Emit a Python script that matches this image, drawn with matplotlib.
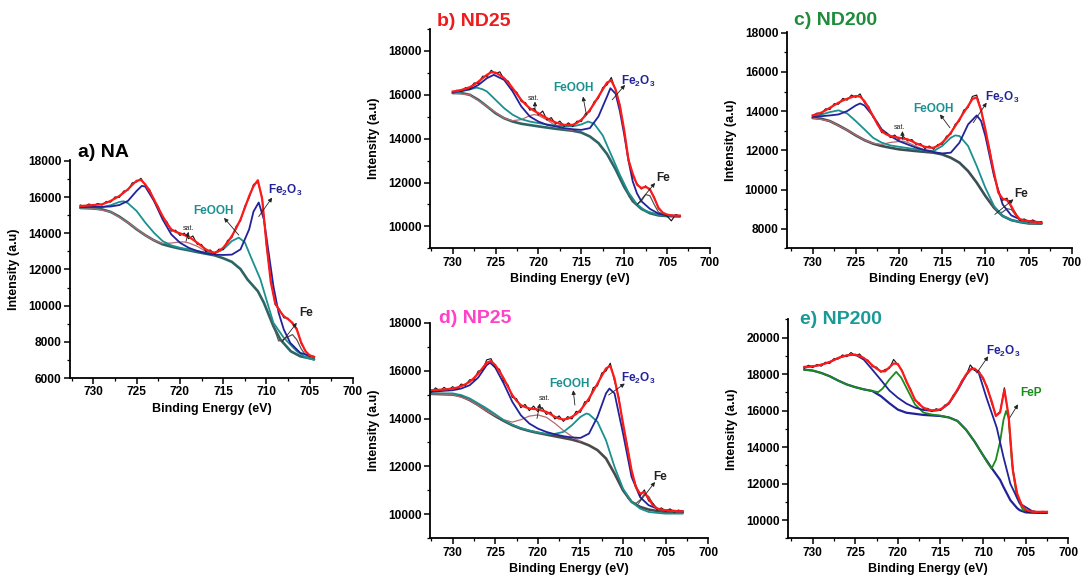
import numpy as np
import matplotlib.pyplot as plt
from matplotlib.ticker import MultipleLocator

plt.rcParams['font.family'] = ['Liberation Sans', 'DejaVu Sans']
plt.rcParams['font.weight'] = 'bold'
plt.rcParams['mathtext.fontset'] = 'custom'
plt.rcParams['mathtext.rm'] = 'Liberation Sans:bold'
plt.rcParams['mathtext.default'] = 'rm'

RED = '#ff1a1a'
NAVY = '#22229a'
TEAL = '#1a9090'
BG = '#2f6465'
SAT = '#b86a70'
FEC = '#555555'
GREEN = '#1a8c1a'

# ---------- a) NA : raw / envelope on a 0.5 eV grid from 731.5 eV ----------
a_x0 = 731.5
a_raw = [15560, 15480, 15620, 15500, 15650, 15560, 15760, 15720, 16010, 15980,
         16330, 16380, 16790, 16830, 17040, 16640, 16420, 15800, 15480, 14860,
         14640, 14120, 14170, 13880, 14010, 13700, 13850, 13390, 13380, 12990,
         13080, 12850, 13120, 13100, 13600, 13760, 14390, 14680, 15510, 15950,
         16700, 16830, 15980, 13300, 11400, 10050, 9800, 9330, 9300, 9000,
         8750, 7900, 7520, 7200, 7160]
a_env = [15510, 15520, 15540, 15560, 15580, 15600, 15690, 15790, 15920, 16060,
         16240, 16430, 16680, 16900, 16950, 16700, 16330, 15880, 15400, 14950,
         14540, 14220, 14080, 14000, 13900, 13810, 13650, 13480, 13290, 13110,
         12990, 12930, 13020, 13200, 13490, 13850, 14280, 14770, 15400, 16060,
         16600, 16930, 15900, 13400, 11300, 10150, 9720, 9420, 9250, 9050,
         8680, 7980, 7480, 7250, 7170]
a_bg = [(731.5, 15400), (730, 15370), (729, 15320), (728, 15180), (727, 14920),
        (726, 14590), (725, 14220), (724, 13890), (723, 13610), (722, 13390),
        (721, 13260), (720, 13150), (719, 13060), (718, 12960), (717, 12870),
        (716, 12780), (715, 12620), (714, 12420), (713, 12020), (712.2, 11450),
        (711, 10800), (710.3, 10160), (709.2, 8860), (708.4, 8130), (707.2, 7480),
        (706.1, 7200), (704.5, 7040)]
a_fe2o3 = [(731.5, 15450), (729, 15460), (728, 15480), (727, 15560), (726, 15790),
           (725, 16340), (724.4, 16620), (724, 16580), (723, 15790), (722, 14770),
           (721, 13940), (720, 13480), (719, 13200), (718, 13020), (717, 12890),
           (716, 12820), (715, 12800), (714, 12820), (713, 13110), (712, 14220),
           (711.5, 15200), (710.9, 15700), (710.3, 14770), (709.75, 12930),
           (709.2, 11080), (708.6, 9610), (708, 8680), (707.25, 7940),
           (706.1, 7390), (704.5, 7170)]
a_feooh = [(731.5, 15420), (729, 15440), (728, 15550), (727, 15730), (726.5, 15770),
           (726, 15660), (725, 15230), (724, 14590), (723, 14030), (722, 13570),
           (721, 13330), (720, 13200), (718, 13020), (717, 12930), (716, 12890),
           (715, 13110), (714, 13570), (713.2, 13760), (712.5, 13500),
           (711.85, 12740), (710.7, 11450), (709.9, 10160), (709.2, 9050),
           (708, 8220), (706.5, 7480), (705.5, 7150), (704.5, 7000)]
a_sat = [(731.5, 15400), (730, 15370), (728, 15180), (726, 14590), (724, 13890),
         (723, 13610), (722, 13440), (721, 13460), (720, 13520), (719.5, 13520),
         (719, 13470), (718, 13280), (717, 13000), (716, 12790)]
a_fe = [(709.5, 9300), (709, 8600), (708.6, 8050), (708.2, 8080), (707.6, 8260),
        (707, 8400), (706.5, 8120), (706, 7620), (705.5, 7280), (705, 7150)]

# ---------- b) ND25 ----------
b_x0 = 730.0
b_raw = [16120, 16210, 16150, 16330, 16250, 16540, 16520, 16850, 16830, 17120,
         16960, 17050, 16700, 16620, 16230, 16110, 15690, 15640, 15300, 15380,
         15080, 15260, 14850, 14960, 14660, 14800, 14560, 14720, 14560, 14800,
         14780, 15150, 15230, 15690, 15840, 16330, 16450, 16790, 16200, 15550,
         14300, 13100, 12300, 11950, 11700, 11850, 11650, 11350, 10800, 10650,
         10470, 10250, 10540, 10480]
b_env = [16150, 16180, 16220, 16280, 16350, 16460, 16600, 16760, 16910, 17030,
         17010, 16900, 16760, 16550, 16300, 16030, 15770, 15560, 15390, 15270,
         15160, 15040, 14930, 14830, 14740, 14680, 14630, 14620, 14630, 14720,
         14860, 15060, 15310, 15600, 15920, 16240, 16560, 16650, 16250, 15500,
         14400, 13040, 12400, 11900, 11750, 11800, 11700, 11300, 10850, 10620,
         10540, 10500, 10490, 10490]
b_bg = [(730, 16080), (729, 16080), (728, 16000), (727, 15770), (726, 15470),
        (725, 15160), (724, 14930), (723, 14780), (722, 14680), (721, 14620),
        (720, 14560), (718, 14450), (716, 14360), (715, 14280), (714, 14100),
        (713, 13800), (712, 13300), (711, 12600), (710, 11800), (709, 11150),
        (708, 10800), (707, 10600), (706, 10500), (705, 10470), (703.5, 10450)]
b_fe2o3 = [(730, 16100), (729, 16190), (728, 16250), (727, 16450), (726, 16760),
           (725.2, 16910), (724, 16680), (723, 16150), (722, 15470), (721, 15010),
           (720, 14780), (719, 14630), (718, 14560), (717, 14480), (716, 14430),
           (715, 14400), (714, 14480), (713, 15010), (712, 15920), (711.6, 16300),
           (711, 16050), (710.5, 15250), (710, 14200), (709.5, 13000), (709, 12050),
           (708.5, 11500), (708, 11150), (707, 10800), (706, 10580), (705, 10500),
           (703.5, 10480)]
b_feooh = [(730, 16100), (729, 16150), (728, 16250), (727.2, 16330), (726.5, 16250),
           (726, 16150), (725, 15770), (724, 15390), (723, 15090), (722, 14890),
           (721, 14780), (720, 14710), (718, 14590), (716, 14560), (715, 14650),
           (714.2, 14780), (713.5, 14680), (712.5, 14150), (711.5, 13250),
           (710.5, 12350), (709.5, 11550), (708.5, 11000), (707.5, 10700),
           (706, 10530), (703.5, 10460)]
b_sat = [(730, 16080), (728, 16000), (726, 15470), (724, 14930), (723, 14820),
         (722, 14870), (721, 15050), (720.5, 15100), (720, 15060), (719, 14850),
         (718, 14600), (717, 14450), (716, 14380)]
b_fe = [(709.5, 11400), (709, 11150), (708.5, 11000), (708, 11150), (707.5, 11450),
        (707, 11400), (706.5, 11000), (706, 10650), (705, 10480)]

# ---------- c) ND200 ----------
c_x0 = 730.0
c_raw = [13750, 13900, 13860, 14120, 14080, 14380, 14350, 14650, 14560, 14820,
         14700, 14880, 14420, 14230, 13680, 13420, 12900, 12900, 12650, 12780,
         12560, 12700, 12480, 12550, 12280, 12340, 12090, 12220, 12050, 12300,
         12310, 12720, 12820, 13330, 13490, 14050, 14180, 14750, 14820, 14100,
         12980, 12050, 10780, 9920, 9450, 9560, 9080, 8800, 8420, 8500,
         8340, 8450, 8300, 8360]
c_env = [13780, 13850, 13920, 14040, 14170, 14300, 14430, 14540, 14630, 14710,
         14770, 14740, 14510, 14150, 13750, 13330, 12980, 12820, 12730, 12680,
         12640, 12600, 12560, 12460, 12350, 12260, 12180, 12140, 12130, 12230,
         12390, 12620, 12900, 13230, 13580, 13930, 14260, 14620, 14700, 14050,
         13070, 11950, 10860, 9840, 9530, 9460, 9160, 8730, 8480, 8420,
         8390, 8360, 8340, 8310]
c_bg = [(730, 13650), (729, 13610), (728, 13490), (727, 13270), (726, 13030),
        (725, 12760), (724, 12520), (723, 12340), (722, 12220), (721, 12130),
        (720, 12050), (718, 11960), (716, 11880), (715, 11790), (714, 11620),
        (713, 11370), (712, 10940), (711, 10350), (710, 9670), (709, 9070),
        (708, 8650), (707, 8440), (706, 8340), (705, 8270), (703.5, 8260)]
c_fe2o3 = [(730, 13700), (728, 13780), (727, 13830), (726, 14000), (725, 14290),
           (724.5, 14390), (724, 14290), (723, 13750), (722, 13070), (721, 12730),
           (720, 12470), (719, 12300), (718, 12130), (717, 12010), (716, 11910),
           (715, 11840), (714, 11880), (713, 12390), (712, 13320), (711, 13780),
           (710.5, 13500), (710, 12730), (709, 10690), (708, 9240), (707, 8680),
           (706, 8480), (705, 8390), (703.5, 8330)]
c_feooh = [(730, 13700), (728, 13950), (727, 14040), (726, 13880), (725, 13490),
           (724, 13070), (723, 12640), (722, 12390), (721, 12250), (720, 12180),
           (718, 12050), (716, 11960), (715, 12220), (714, 12640), (713.5, 12760),
           (713, 12730), (712, 12220), (711, 11200), (710, 10090), (709, 9160),
           (708, 8650), (707, 8440), (706, 8340), (705, 8280), (703.5, 8270)]
c_sat = [(730, 13650), (728, 13490), (726, 13030), (724, 12520), (723, 12360),
         (722, 12300), (721, 12400), (720, 12450), (719.5, 12470), (719, 12400),
         (718, 12200), (717, 12000), (716, 11900)]
c_fe = [(709.5, 9400), (709, 9070), (708.5, 8800), (708, 8850), (707.5, 9020),
        (707, 8980), (706.5, 8700), (706, 8450), (705, 8300)]

# ---------- d) NP25 ----------
d_x0 = 732.5
d_raw = [15100, 15280, 15150, 15300, 15180, 15330, 15220, 15440, 15380, 15620,
         15610, 15980, 16020, 16450, 16500, 16120, 16060, 15560, 15400, 14880,
         14830, 14450, 14590, 14330, 14520, 14290, 14460, 14170, 14270, 13980,
         14110, 13880, 14080, 13980, 14300, 14260, 14700, 14720, 15290, 15360,
         15900, 15980, 16310, 15560, 14890, 13700, 12880, 11750, 11220, 10780,
         11020, 10560, 10460, 10180, 10270, 10120, 10230, 10090, 10180, 10110]
d_env = [15180, 15190, 15200, 15210, 15230, 15250, 15290, 15350, 15430, 15530,
         15690, 15880, 16100, 16330, 16400, 16230, 15970, 15670, 15320, 14980,
         14740, 14560, 14480, 14420, 14400, 14380, 14330, 14280, 14180, 14070,
         14000, 13960, 13990, 14070, 14190, 14350, 14580, 14840, 15140, 15460,
         15780, 16090, 16200, 15670, 14800, 13790, 12800, 11840, 11140, 10860,
         10930, 10650, 10380, 10240, 10200, 10170, 10150, 10140, 10130, 10130]
d_bg = [(732.5, 15030), (730, 15000), (729, 14930), (728, 14770), (727, 14560),
        (726, 14320), (725, 14100), (724, 13900), (723, 13720), (722, 13580),
        (721, 13480), (720, 13400), (718, 13260), (716, 13120), (715, 13020),
        (714, 12880), (713, 12680), (712, 12330), (711, 11700), (710, 11000),
        (709, 10520), (708, 10310), (707, 10200), (706, 10140), (705, 10100),
        (703, 10070)]
d_fe2o3 = [(732.5, 15120), (730, 15180), (729, 15250), (728, 15390), (727, 15710),
           (726, 16230), (725.6, 16330), (725, 16130), (724, 15460), (723, 14700),
           (722, 14140), (721, 13790), (720, 13580), (719, 13440), (718, 13340),
           (717, 13260), (716, 13210), (715, 13190), (714, 13370), (713, 14070),
           (712, 15050), (711.6, 15250), (711, 15050), (710, 13370), (709, 11560),
           (708, 10720), (707, 10380), (706, 10240), (705, 10170), (703, 10130)]
d_feooh = [(732.5, 15050), (730, 15050), (729, 14980), (728, 14840), (727, 14630),
           (726, 14420), (725, 14180), (724, 13930), (723, 13740), (722, 13600),
           (721, 13500), (720, 13420), (719, 13360), (718, 13360), (717, 13440),
           (716, 13720), (715, 14070), (714.3, 14210), (714, 14180), (713, 13860),
           (712, 13090), (711, 11980), (710, 11070), (709, 10520), (708, 10240),
           (707, 10100), (706, 10060), (705, 10030), (703, 10030)]
d_sat = [(732.5, 15030), (730, 15000), (728, 14770), (726, 14320), (725, 14120),
         (724, 13950), (723, 13850), (722, 13950), (721, 14100), (720, 14150),
         (719, 14050), (718, 13800), (717, 13500), (716, 13250), (715, 13050)]
d_fe = [(709.5, 10700), (709, 10520), (708.5, 10450), (708, 10600), (707.5, 10850),
        (707, 10750), (706.5, 10450), (706, 10250), (705, 10150)]

# ---------- e) NP200 ----------
e_x0 = 731.0
e_raw = [18300, 18480, 18350, 18520, 18430, 18650, 18580, 18850, 18820, 19050,
         18950, 19180, 19000, 19100, 18820, 18760, 18400, 18380, 18100, 18250,
         18300, 18800, 18500, 18200, 17550, 17180, 16550, 16420, 16100, 16120,
         15950, 16100, 16000, 16300, 16380, 16850, 17100, 17650, 17900, 18500,
         18200, 18180, 17700, 17300, 16400, 15750, 15950, 17250, 15600, 12800,
         11400, 10900, 10500, 10400, 10500, 10380, 10480, 10420]
e_env = [18370, 18400, 18420, 18460, 18510, 18580, 18660, 18770, 18880, 18960,
         19020, 19050, 19060, 18990, 18880, 18700, 18480, 18300, 18150, 18150,
         18370, 18580, 18550, 18150, 17610, 17100, 16610, 16340, 16160, 16060,
         16010, 16020, 16070, 16220, 16430, 16770, 17160, 17580, 17970, 18250,
         18300, 18100, 17790, 17200, 16520, 15700, 15900, 17150, 15700, 12700,
         11450, 10850, 10560, 10480, 10450, 10450, 10450, 10450]
e_bg = [(731, 18240), (730, 18190), (729, 18060), (728, 17880), (727, 17640),
        (726, 17430), (725, 17280), (724, 17160), (723, 17070), (722, 16790),
        (721, 16400), (720, 16050), (719, 15880), (718, 15820), (717, 15760),
        (716, 15730), (715, 15700), (714, 15620), (713, 15430), (712, 14950),
        (711, 14300), (710, 13550), (709, 12850), (708, 12200), (707.6, 11810),
        (706.8, 11090), (706, 10650), (705.7, 10540), (705, 10420), (704.1, 10400),
        (702.5, 10390)]
e_fe2o3 = [(731, 18400), (730, 18420), (729, 18510), (728, 18660), (727, 18880),
           (726, 19020), (725, 19060), (724, 18790), (723, 18240), (722, 17680),
           (721, 17100), (720, 16700), (719, 16380), (718, 16160), (717, 16030),
           (716, 15980), (715, 16030), (714, 16380), (713, 17100), (712, 17930),
           (711.3, 18330), (710.5, 18050), (709.6, 16700), (708.4, 15070),
           (707.6, 13440), (706.8, 11990), (705.7, 10910), (704.1, 10450),
           (702.5, 10420)]
e_fep = [(731, 18240), (730, 18190), (729, 18060), (728, 17880), (727, 17640),
         (726, 17430), (725, 17280), (724, 17160), (723, 17070), (722.3, 17010),
         (721.8, 17200), (721, 17700), (720.2, 18120), (719.6, 17800), (719, 17250),
         (718, 16340), (717, 15890), (716, 15780), (715, 15720), (714, 15620),
         (713, 15430), (712, 14950), (711, 14300), (710, 13550), (709.5, 13150),
         (709, 12820), (708.5, 13300), (708, 14300), (707.6, 15500), (707.3, 15980),
         (707, 15600), (706.6, 13080), (706.05, 11270), (705.3, 10540),
         (704.1, 10450), (702.5, 10430)]


def xy(pts):
    arr = np.array(pts, dtype=float)
    return arr[:, 0], arr[:, 1]


def make_axes(fig, rect, xlim, ylim, ystep_ticks):
    ax = fig.add_axes(rect)
    ax.set_xlim(xlim)
    ax.set_ylim(ylim)
    for s in ['top', 'right']:
        ax.spines[s].set_visible(False)
    for s in ['left', 'bottom']:
        ax.spines[s].set_linewidth(1.3)
    ax.set_xticks([730, 725, 720, 715, 710, 705, 700])
    ax.xaxis.set_minor_locator(MultipleLocator(2.5))
    ax.set_yticks(ystep_ticks)
    ax.yaxis.set_minor_locator(MultipleLocator(1000))
    ax.tick_params(which='major', direction='out', length=4, width=1.1, labelsize=8.6, pad=2)
    ax.tick_params(which='minor', direction='out', length=2.5, width=0.9)
    for lab in ax.get_xticklabels() + ax.get_yticklabels():
        lab.set_fontweight('bold')
    ax.set_xlabel('Binding Energy (eV)', fontsize=9, fontweight='bold')
    ax.set_ylabel('Intensity (a.u)', fontsize=9, fontweight='bold')
    w_px = rect[2] * 1083
    h_px = rect[3] * 578
    ax.yaxis.set_label_coords(-50 / w_px, 0.5)
    ax.xaxis.set_label_coords(0.5, -25 / h_px)
    return ax


def draw_data(ax, x0, raw, env, comps):
    x = x0 - 0.5 * np.arange(len(raw))
    for pts, color, lw in comps:
        cx, cy = xy(pts)
        ax.plot(cx, cy, color=color, lw=lw, solid_capstyle='round')
    ax.plot(x, raw, color='#111111', lw=0.8)
    ax.plot(x, env, color=RED, lw=1.6)


def arrow(ax, tail, tip):
    ax.annotate('', xy=tip, xytext=tail,
                arrowprops=dict(arrowstyle='-|>', lw=0.6, color='#222222',
                                mutation_scale=6, shrinkA=0, shrinkB=0))


def labels(ax, items):
    for text, pos, color, size, tail, tip in items:
        ax.text(pos[0], pos[1], text, color=color, fontsize=size,
                fontweight='bold' if size > 6 else 'normal',
                ha='center', va='center')
        arrow(ax, tail, tip)


FE2O3 = r'Fe$_2$O$_3$'

fig = plt.figure(figsize=(10.83, 5.78), dpi=100)

# a) NA
ax = make_axes(fig, [0.0646, 0.346, 0.2614, 0.3772], (732.7, 700), (6000, 18050),
               [6000, 8000, 10000, 12000, 14000, 16000, 18000])
draw_data(ax, a_x0, a_raw, a_env,
          [(a_bg, BG, 1.9), (a_sat, SAT, 0.9), (a_fe, FEC, 0.9),
           (a_feooh, TEAL, 1.3), (a_fe2o3, NAVY, 1.3)])
labels(ax, [('FeOOH', (716.1, 15230), TEAL, 8.5, (713.2, 13900), (714.9, 14850)),
            (FE2O3, (707.8, 16340), NAVY, 8.5, (710.9, 14920), (709.35, 15970)),
            ('Fe', (705.4, 9570), '#222222', 8.5, (708.2, 8000), (706.5, 9050)),
            ('sat.', (719.0, 14250), '#222222', 5, (719.3, 13550), (719.0, 14080))])

# b) ND25
ax = make_axes(fig, [0.397, 0.5704, 0.2585, 0.3794], (732.65, 700), (9000, 19000),
               [10000, 12000, 14000, 16000, 18000])
draw_data(ax, b_x0, b_raw, b_env,
          [(b_bg, BG, 1.9), (b_sat, SAT, 0.9), (b_fe, FEC, 0.9),
           (b_feooh, TEAL, 1.3), (b_fe2o3, NAVY, 1.3)])
labels(ax, [('FeOOH', (715.9, 16300), TEAL, 8.5, (714.4, 15090), (714.8, 15920)),
            (FE2O3, (708.4, 16600), NAVY, 8.5, (711.4, 15770), (709.9, 16450)),
            ('Fe', (705.4, 12200), '#222222', 8.5, (708.5, 10990), (706.4, 11980)),
            ('sat.', (720.6, 15850), '#222222', 5, (720.4, 15310), (720.4, 15690))])

# c) ND200
ax = make_axes(fig, [0.7264, 0.5704, 0.2632, 0.3747], (733.0, 700), (7000, 18050),
               [8000, 10000, 12000, 14000, 16000, 18000])
draw_data(ax, c_x0, c_raw, c_env,
          [(c_bg, '#3a4f55', 1.9), (c_sat, SAT, 0.9), (c_fe, FEC, 0.9),
           (c_feooh, TEAL, 1.3), (c_fe2o3, NAVY, 1.3)])
labels(ax, [('FeOOH', (716.0, 14090), TEAL, 8.5, (714.1, 13150), (715.25, 13830)),
            (FE2O3, (708.1, 14680), NAVY, 8.5, (711.4, 13410), (709.85, 14430)),
            ('Fe', (705.9, 9750), '#222222', 8.5, (708.9, 8730), (706.75, 9500)),
            ('sat.', (719.9, 13150), '#222222', 5, (719.6, 12560), (719.6, 12980))])

# d) NP25
ax = make_axes(fig, [0.397, 0.0687, 0.257, 0.373], (732.66, 700), (9000, 18000),
               [10000, 12000, 14000, 16000, 18000])
draw_data(ax, d_x0, d_raw, d_env,
          [(d_bg, '#4a4a4a', 1.9), (d_sat, SAT, 0.9), (d_fe, FEC, 0.9),
           (d_feooh, TEAL, 1.3), (d_fe2o3, NAVY, 1.3)])
labels(ax, [('FeOOH', (716.3, 15460), TEAL, 8.5, (715.65, 14560), (715.85, 15180)),
            (FE2O3, (708.2, 15670), NAVY, 8.5, (711.7, 14980), (709.8, 15460)),
            ('Fe', (705.6, 11560), '#222222', 8.5, (708.2, 10450), (706.25, 11350)),
            ('sat.', (719.2, 14840), '#222222', 5, (720.1, 14000), (719.75, 14630))])

# e) NP200
ax = make_axes(fig, [0.7279, 0.0687, 0.2585, 0.3789], (732.86, 700), (9000, 21000),
               [10000, 12000, 14000, 16000, 18000, 20000])
draw_data(ax, e_x0, e_raw, e_env,
          [(e_bg, NAVY, 1.6), (e_fep, GREEN, 1.3), (e_fe2o3, NAVY, 1.3)])
labels(ax, [(FE2O3, (707.65, 19240), NAVY, 8.5, (710.75, 18060), (709.4, 18970)),
            ('FeP', (704.4, 16970), GREEN, 8.5, (706.85, 15620), (705.9, 16340))])

# panel titles
fig.text(0.072, 0.737, 'a) NA', color='black', fontsize=14, fontweight='bold', va='center')
fig.text(0.4035, 0.962, 'b) ND25', color='#ee1c1c', fontsize=14, fontweight='bold', va='center')
fig.text(0.733, 0.9637, 'c) ND200', color='#1e8c3a', fontsize=14, fontweight='bold', va='center')
fig.text(0.4054, 0.4498, 'd) NP25', color='#ff40c8', fontsize=14, fontweight='bold', va='center')
fig.text(0.7387, 0.4464, 'e) NP200', color='#1a9999', fontsize=14, fontweight='bold', va='center')

fig.savefig('out.png', dpi=100)
